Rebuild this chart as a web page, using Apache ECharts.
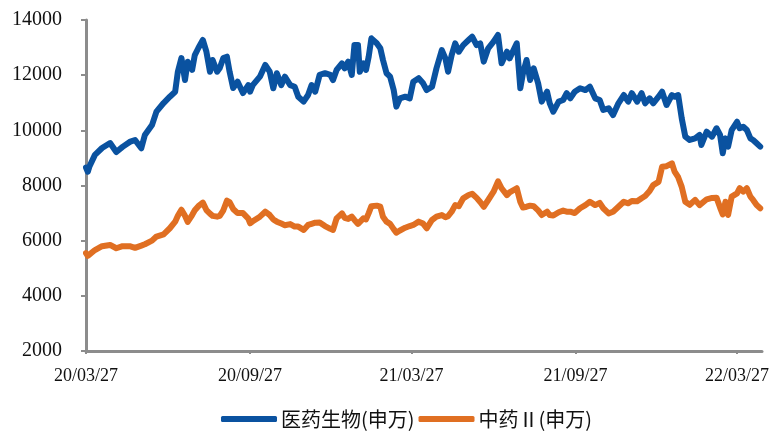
<!DOCTYPE html>
<html>
<head>
<meta charset="utf-8">
<script src="https://cdn.jsdelivr.net/npm/echarts@6/dist/echarts.min.js"></script>
<style>html,body{margin:0;padding:0;background:#fff;}#chart{width:780px;height:434px;}</style>
</head>
<body>
<div id="chart"></div>
<script>
const seriesNames = ['医药生物(申万)', '中药Ⅱ(申万)'];
const tickDates = ['2020-03-27', '2020-09-27', '2021-03-27', '2021-09-27', '2022-03-27'];
const axisStart = '2020-03-27';
const axisEnd = '2022-04-24';
const yTicks = [2000, 4000, 6000, 8000, 10000, 12000, 14000];

const dates = [
'2020-03-27','2020-03-29','2020-03-31','2020-04-06','2020-04-14','2020-04-23','2020-04-30','2020-05-07','2020-05-15','2020-05-21',
'2020-05-28','2020-06-01','2020-06-09','2020-06-14','2020-06-22','2020-06-29','2020-07-05','2020-07-08','2020-07-12','2020-07-16',
'2020-07-19','2020-07-24','2020-07-27','2020-07-31','2020-08-05','2020-08-09','2020-08-13','2020-08-16','2020-08-21','2020-08-24',
'2020-08-28','2020-09-01','2020-09-04','2020-09-08','2020-09-13','2020-09-19','2020-09-25','2020-09-27','2020-09-30','2020-10-08',
'2020-10-14','2020-10-19','2020-10-23','2020-10-27','2020-11-01','2020-11-05','2020-11-11','2020-11-16','2020-11-20','2020-11-26',
'2020-12-01','2020-12-05','2020-12-09','2020-12-14','2020-12-20','2020-12-26','2020-12-29','2021-01-02','2021-01-08','2021-01-11',
'2021-01-15','2021-01-19','2021-01-22','2021-01-26','2021-01-28','2021-02-01','2021-02-04','2021-02-07','2021-02-10','2021-02-16',
'2021-02-20','2021-02-23','2021-02-27','2021-03-03','2021-03-07','2021-03-10','2021-03-14','2021-03-20','2021-03-25','2021-03-29',
'2021-04-04','2021-04-09','2021-04-13','2021-04-19','2021-04-24','2021-04-30','2021-05-04','2021-05-07','2021-05-11','2021-05-15',
'2021-05-19','2021-05-24','2021-05-30','2021-06-03','2021-06-08','2021-06-12','2021-06-16','2021-06-21','2021-06-27','2021-07-02',
'2021-07-06','2021-07-12','2021-07-15','2021-07-23','2021-07-27','2021-07-30','2021-08-03','2021-08-07','2021-08-11','2021-08-16',
'2021-08-20','2021-08-26','2021-08-29','2021-09-02','2021-09-08','2021-09-13','2021-09-17','2021-09-21','2021-09-26','2021-10-02',
'2021-10-08','2021-10-13','2021-10-19','2021-10-24','2021-10-28','2021-11-03','2021-11-08','2021-11-14','2021-11-20','2021-11-25',
'2021-11-29','2021-12-05','2021-12-10','2021-12-14','2021-12-19','2021-12-23','2021-12-29','2022-01-02','2022-01-07','2022-01-13',
'2022-01-16','2022-01-20','2022-01-24','2022-01-28','2022-02-02','2022-02-08','2022-02-13','2022-02-15','2022-02-21','2022-02-27',
'2022-03-04','2022-03-08','2022-03-11','2022-03-14','2022-03-17','2022-03-21','2022-03-27','2022-03-30','2022-04-03','2022-04-07',
'2022-04-11','2022-04-14','2022-04-18','2022-04-22'
];

const pharmaValues = [
8650,8500,8700,9110,9360,9540,9215,9400,9580,9650,
9350,9830,10190,10680,10990,11220,11400,12125,12620,11825,
12490,12190,12730,12985,13275,12850,12125,12550,12125,12260,
12620,12670,12125,11535,11765,11350,11640,11400,11640,11945,
12370,12125,11525,12070,11640,11945,11640,11580,11220,11040,
11280,11640,11400,12010,12070,12010,11825,12190,12430,12250,
12490,12010,13090,13090,12125,12430,12190,12670,13335,13155,
12975,12550,12070,11945,11460,10860,11160,11220,11160,11765,
11890,11705,11460,11580,12250,12910,12610,12125,12730,13155,
12850,13090,13275,13395,13090,13155,12490,12975,13215,13455,
12430,12850,12610,13155,11525,12070,12550,11825,12250,11705,
11040,11400,10980,10675,11040,11100,11345,11160,11400,11525,
11460,11580,11160,11100,10740,10800,10555,10980,11280,11040,
11345,11040,11345,10980,11160,10980,11220,11400,10920,11280,
11220,11280,10435,9770,9650,9710,9830,9470,9950,9770,
10075,9830,9170,9710,9410,10010,10310,10075,10130,10010,
9710,9650,9530,9410
];

const tcmValues = [
5550,5450,5480,5660,5800,5845,5725,5800,5800,5740,
5820,5870,6000,6150,6230,6450,6690,6900,7120,6900,
6680,6930,7100,7250,7380,7110,6980,6900,6870,6900,
7100,7450,7400,7150,7000,7000,6800,6630,6700,6870,
7050,6930,6770,6690,6620,6560,6600,6510,6510,6390,
6570,6610,6650,6660,6530,6430,6390,6810,6990,6830,
6790,6870,6750,6610,6570,6810,6770,7000,7250,7270,
7230,6870,6690,6610,6420,6290,6370,6470,6530,6570,
6690,6620,6450,6750,6870,6930,6850,6890,7050,7290,
7250,7535,7655,7700,7550,7400,7230,7475,7775,8150,
7900,7650,7750,7900,7400,7200,7230,7270,7250,7100,
6930,7050,6930,6910,7030,7090,7050,7050,7000,7175,
7290,7410,7290,7370,7175,6990,7050,7230,7410,7355,
7440,7430,7540,7620,7800,8015,8130,8680,8700,8805,
8500,8300,7950,7410,7300,7480,7290,7350,7500,7550,
7560,7200,6950,7410,6930,7595,7715,7900,7775,7900,
7595,7475,7290,7175
];

// calendar-day categories for a linear date axis
function fmt(d) {
  const m = String(d.getUTCMonth() + 1).padStart(2, '0');
  const dd = String(d.getUTCDate()).padStart(2, '0');
  return d.getUTCFullYear() + '-' + m + '-' + dd;
}
const categories = [];
for (let t = Date.parse(axisStart + 'T00:00:00Z'); t <= Date.parse(axisEnd + 'T00:00:00Z'); t += 86400000) {
  categories.push(fmt(new Date(t)));
}
const tickSet = new Set(tickDates);
const isTick = (idx, val) => tickSet.has(val);

const chart = echarts.init(document.getElementById('chart'), null, {renderer: 'canvas'});
const axisColor = '#8c8c8c';
chart.setOption({
  animation: false,
  backgroundColor: '#ffffff',
  grid: {left: 86, right: 18, top: 20, bottom: 83, containLabel: false},
  legend: {
    left: 216, top: 404,
    icon: 'roundRect',
    itemWidth: 56, itemHeight: 6, itemGap: 4,
    textStyle: {fontFamily: '"Noto Sans CJK SC", "Liberation Serif", serif', fontSize: 20, color: '#111', padding: [0, 0, 0, -1]},
    data: seriesNames
  },
  xAxis: {
    type: 'category',
    data: categories,
    boundaryGap: false,
    axisLine: {lineStyle: {color: axisColor, width: 3}},
    axisTick: {show: true, interval: isTick, length: 3, lineStyle: {color: axisColor, width: 2}},
    axisLabel: {
      interval: isTick, margin: 16,
      fontFamily: '"Liberation Serif", serif', fontSize: 18, color: '#111',
      formatter: v => v.slice(2).replace(/-/g, '/')
    },
    splitLine: {show: false}
  },
  yAxis: {
    type: 'value',
    min: yTicks[0], max: yTicks[yTicks.length - 1], interval: 2000,
    axisLine: {show: true, lineStyle: {color: axisColor, width: 3}},
    axisTick: {show: true, length: 5, lineStyle: {color: axisColor, width: 2}},
    axisLabel: {margin: 24, fontFamily: '"Liberation Serif", serif', fontSize: 20, color: '#111', formatter: v => String(v)},
    splitLine: {show: false}
  },
  series: [
    {
      name: seriesNames[0], type: 'line', symbol: 'none', showSymbol: false,
      data: dates.map((d, i) => [d, pharmaValues[i]]),
      itemStyle: {color: '#0a52a0'},
      lineStyle: {color: '#0a52a0', width: 6, join: 'round', cap: 'round'}
    },
    {
      name: seriesNames[1], type: 'line', symbol: 'none', showSymbol: false,
      data: dates.map((d, i) => [d, tcmValues[i]]),
      itemStyle: {color: '#e06f22'},
      lineStyle: {color: '#e06f22', width: 6, join: 'round', cap: 'round'}
    }
  ]
});
</script>
</body>
</html>
